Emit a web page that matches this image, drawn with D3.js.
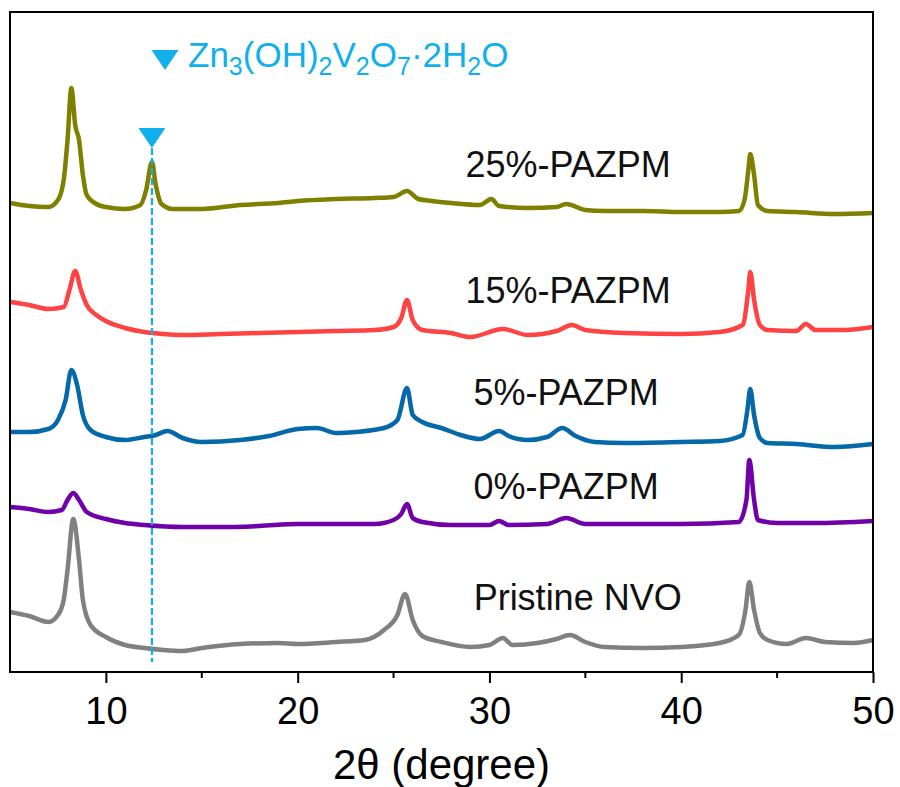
<!DOCTYPE html>
<html>
<head>
<meta charset="utf-8">
<script src="https://cdn.jsdelivr.net/npm/d3@7"></script>
<style>
  body { margin: 0; background: #fff; }
  svg { display: block; font-family: Arial, "Liberation Sans", sans-serif; }
</style>
</head>
<body>
<div id="chart"></div>
<script>
// 2θ range and ticks
const xDomain = [5, 50];
const xMajorTicks = [10, 20, 30, 40, 50];
const xMinorTicks = [15, 25, 35, 45];

// stacked intensities (a.u.)
const pristine = [[5,60],[6,56],[7,50],[7.5,57],[7.8,72],[8.0,102],[8.3,153],[8.6,112],[8.8,72],[9.2,47],[10,35],[11,27],[12,24],[13,22],[14,21],[15,24],[17,28],[19,29],[20,28],[22,30],[23.5,32],[24.5,42],[25.2,57],[25.6,78],[26,52],[26.5,36],[27.5,30],[29,25],[30,27],[30.7,34],[31.2,27],[32.5,29],[33.5,33],[34.2,37],[35,30],[36,25],[38,24],[40,25],[42,29],[43,37],[43.35,62],[43.55,90],[43.8,62],[44.1,39],[44.5,32],[45.5,28],[46.5,34],[47.5,30],[49,29],[50,32]];
const pazpm0 = [[5,165],[6,163],[7,160],[7.7,162],[8.0,172],[8.3,179],[8.6,172],[9,160],[10,153],[11,149],[12,147],[14,145],[16,145],[18,146],[20,148],[22,148],[24,148],[25,152],[25.4,158],[25.7,168],[26,154],[26.5,150],[28,147],[30,147],[30.5,151],[31,147],[33,148],[34,154],[35,148],[37,148],[40,148],[43,150],[43.4,172],[43.55,212],[43.8,172],[44.0,152],[45,149],[47,149],[50,151]];
const pazpm5 = [[5,240],[6,240],[7,243],[7.5,252],[7.9,272],[8.2,302],[8.5,287],[8.8,257],[9.2,242],[10,235],[11,232],[12,235],[12.6,237],[13.2,241],[14,234],[15,230],[17,232],[18.5,236],[20,243],[21,244],[22,239],[23,240],[24.5,244],[25.2,252],[25.7,284],[26,257],[26.5,250],[27.5,244],[28.5,237],[29.5,233],[30.5,241],[31,236],[32,232],[33,235],[33.8,244],[34.5,236],[35.5,230],[37,229],[40,230],[42,231],[43.2,237],[43.45,262],[43.6,283],[43.8,257],[44.1,234],[44.5,229],[46,228],[48,225],[50,228]];
const pazpm15 = [[5,370],[6,367],[7,363],[7.8,365],[8.1,382],[8.4,401],[8.7,382],[9,367],[9.5,357],[10,351],[11,344],[12,340],[13,338],[14,337],[16,338],[18,339],[20,340],[22,341],[24,342],[25,345],[25.4,354],[25.7,372],[26,352],[26.5,342],[28,339],[29,335],[30.7,343],[32,337],[33.5,341],[34.3,347],[35,342],[37,339],[40,338],[42,340],[43.2,347],[43.5,382],[43.6,400],[43.8,372],[44.1,347],[44.5,342],[46,341],[46.5,348],[47,342],[48.5,342],[50,345]];
const pazpm25 = [[5,469],[6,466],[7,465],[7.5,472],[7.8,492],[8.0,532],[8.2,584],[8.4,547],[8.6,532],[8.8,497],[9.0,477],[9.5,468],[10,465],[11,463],[11.8,467],[12.1,482],[12.4,510],[12.6,487],[12.9,468],[13.5,463],[15,463],[17,467],[19,469],[20,471],[22,473],[24,474],[25,475],[25.7,481],[26.3,473],[27,471],[28,469],[29.5,467],[30.1,473],[30.5,466],[32,464],[33.5,465],[34,468],[35,462],[36,461],[38,461],[40,460],[42,460],[43,461],[43.3,472],[43.5,502],[43.6,518],[43.8,497],[44.0,467],[44.5,461],[46,460],[48,458],[50,459]];

const seriesNames = ['Pristine NVO', '0%-PAZPM', '5%-PAZPM', '15%-PAZPM', '25%-PAZPM'];
const seriesData = [pristine, pazpm0, pazpm5, pazpm15, pazpm25];
const seriesColors = ['#808080', '#7000a8', '#0568a8', '#ff4242', '#7f7f00'];
// label anchor (2θ, intensity of baseline)
const labelX = [34.6, 34.0, 34.0, 34.1, 34.1];
const labelY = [62, 173, 267, 369, 495];

// Zn3(OH)2V2O7·2H2O reference peak
const refPeak = 12.4;
const refTop = 524;
const refBottom = 10;

const width = 900, height = 787;
const margin = { left: 10, right: 27, top: 12, bottom: 115 };

const svg = d3.select('#chart').append('svg')
    .attr('width', width)
    .attr('height', height);

const x = d3.scaleLinear().domain(xDomain).range([margin.left, width - margin.right]);
const y = d3.scaleLinear().domain([0, 660]).range([height - margin.bottom, margin.top]);

// traces
const line = d3.line()
    .x(d => x(d[0]))
    .y(d => y(d[1]))
    .curve(d3.curveMonotoneX);

svg.append('g')
    .selectAll('path')
    .data(seriesData)
    .enter()
    .append('path')
    .attr('d', line)
    .attr('fill', 'none')
    .attr('stroke', (d, i) => seriesColors[i])
    .attr('stroke-width', 4.5)
    .attr('stroke-linejoin', 'round');

// series labels
svg.append('g')
    .selectAll('text')
    .data(seriesNames)
    .enter()
    .append('text')
    .attr('x', (d, i) => x(labelX[i]))
    .attr('y', (d, i) => y(labelY[i]))
    .attr('text-anchor', 'middle')
    .attr('font-size', 36)
    .attr('fill', '#111')
    .text(d => d);

// dashed reference line + marker
const refColor = '#10b0ec';
svg.append('line')
    .attr('x1', x(refPeak)).attr('x2', x(refPeak))
    .attr('y1', y(refTop)).attr('y2', y(refBottom))
    .attr('stroke', refColor)
    .attr('stroke-width', 2.2)
    .attr('stroke-dasharray', '7,3');

function triangle(cx, tipY) {
    return `M${cx - 13.5},${tipY - 20}L${cx + 13.5},${tipY - 20}L${cx},${tipY}Z`;
}
svg.append('path')
    .attr('d', triangle(x(refPeak), y(refTop)))
    .attr('fill', refColor);

// legend
const legend = svg.append('g').attr('fill', refColor);
legend.append('path').attr('d', triangle(165, 70));
const formula = [['Zn', 0], ['3', 1], ['(OH)', 0], ['2', 1], ['V', 0], ['2', 1], ['O', 0], ['7', 1], ['·2H', 0], ['2', 1], ['O', 0]];
const legendText = legend.append('text')
    .attr('x', 188)
    .attr('y', 67)
    .attr('font-size', 35);
let prevSub = 0;
formula.forEach(([t, sub]) => {
    legendText.append('tspan')
        .attr('dy', (sub - prevSub) * 8)
        .attr('font-size', sub ? 25 : 35)
        .text(t);
    prevSub = sub;
});

// frame
const plotBottom = height - margin.bottom;
svg.append('rect')
    .attr('x', margin.left)
    .attr('y', margin.top)
    .attr('width', width - margin.right - margin.left)
    .attr('height', plotBottom - margin.top)
    .attr('fill', 'none')
    .attr('stroke', '#000')
    .attr('stroke-width', 2);

// x axis
const axis = svg.append('g').attr('transform', `translate(0,${plotBottom})`);
axis.call(d3.axisBottom(x).tickValues(xMajorTicks).tickSize(11).tickPadding(14).tickFormat(d3.format('d')));
axis.select('.domain').remove();
axis.selectAll('.tick line').attr('stroke-width', 2);
axis.selectAll('.tick text')
    .attr('font-size', 38)
    .attr('font-family', 'Arial, "Liberation Sans", sans-serif')
    .attr('fill', '#000');

axis.selectAll('.minor')
    .data(xMinorTicks)
    .enter()
    .append('line')
    .attr('class', 'minor')
    .attr('x1', d => x(d)).attr('x2', d => x(d))
    .attr('y1', 0).attr('y2', 6)
    .attr('stroke', '#000')
    .attr('stroke-width', 2);

svg.append('text')
    .attr('x', x(27.5))
    .attr('y', 779)
    .attr('text-anchor', 'middle')
    .attr('font-size', 42)
    .attr('fill', '#000')
    .text('2θ (degree)');
</script>
</body>
</html>
